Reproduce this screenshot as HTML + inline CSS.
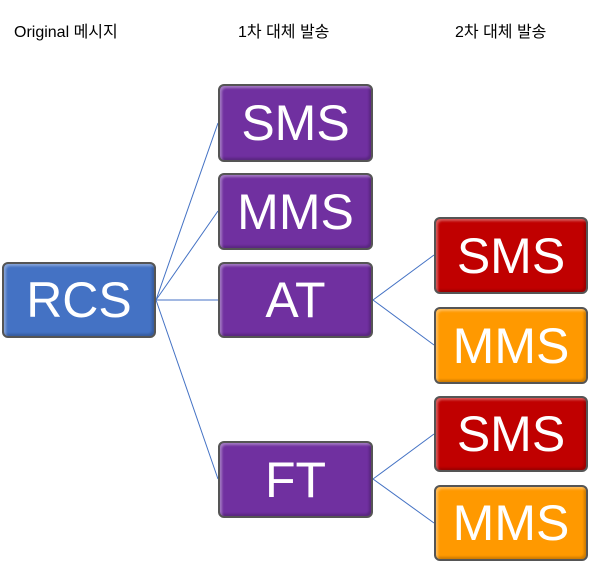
<!DOCTYPE html>
<html><head><meta charset="utf-8"><style>
body{margin:0;width:602px;height:581px;background:#fff;position:relative;overflow:hidden;font-family:"Liberation Sans","Noto Sans CJK KR",sans-serif}
.h{position:absolute;top:18px;font-size:16px;color:#000}
.b{position:absolute;box-sizing:border-box;border:2px solid #555;border-radius:6px;color:#fff;font-size:50px;display:flex;align-items:center;justify-content:center;box-shadow:inset 2px 2px 2px rgba(255,255,255,.35),inset -2px -2px 2px rgba(0,0,0,.2)}
.p{background:#7030a0;left:218px;width:155px}
.r{background:#c00000;left:434px;width:154px}
.o{background:#ff9900;left:434px;width:154px}
</style></head><body>
<div class="h" style="left:14px">Original 메시지</div>
<div class="h" style="left:238px">1차 대체 발송</div>
<div class="h" style="left:455px">2차 대체 발송</div>
<svg style="position:absolute;left:0;top:0" width="602" height="581">
<g stroke="#4472c4" stroke-width="1" fill="none">
<path d="M156 300L218 123M156 300L218 211M156 300L218 300M156 300L218 479M373 300L434 255M373 300L434 345M373 479L434 434M373 479L434 523"/>
</g></svg>
<div class="b" style="background:#4472c4;left:2px;top:262px;width:154px;height:76px">RCS</div>
<div class="b p" style="top:84px;height:78px">SMS</div>
<div class="b p" style="top:173px;height:77px">MMS</div>
<div class="b p" style="top:262px;height:76px">AT</div>
<div class="b p" style="top:441px;height:77px">FT</div>
<div class="b r" style="top:217px;height:77px">SMS</div>
<div class="b o" style="top:307px;height:77px">MMS</div>
<div class="b r" style="top:396px;height:76px">SMS</div>
<div class="b o" style="top:485px;height:76px">MMS</div>
</body></html>
